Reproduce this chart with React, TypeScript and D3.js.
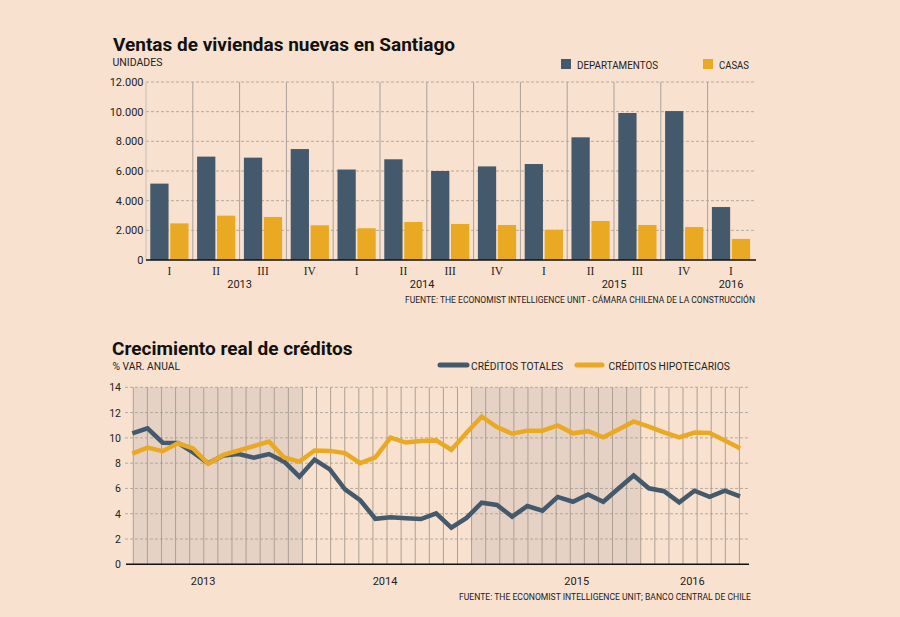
import React from 'react';
import * as d3 from 'd3';

// ---------- Chart 1 data ----------
const quarters = ['I', 'II', 'III', 'IV', 'I', 'II', 'III', 'IV', 'I', 'II', 'III', 'IV', 'I'];
const departamentos = [5150, 6970, 6900, 7480, 6100, 6790, 6000, 6310, 6470, 8270, 9910, 10040, 3570];
const casas = [2470, 2990, 2900, 2340, 2140, 2560, 2430, 2360, 2040, 2630, 2360, 2220, 1420];
const barYearLabels = ['2013', '2014', '2015', '2016'];
const barYearAt = [2, 5.9, 10, 12.5];
const barTicks = [0, 2000, 4000, 6000, 8000, 10000, 12000];

// ---------- Chart 2 data ----------
const creditosTotales = [
  10.36, 10.76, 9.62, 9.6, 8.85, 7.99, 8.6, 8.72, 8.43, 8.72,
  8.12, 6.93, 8.28, 7.51, 5.93, 5.07, 3.6, 3.72, 3.65, 3.58,
  4.03, 2.9, 3.67, 4.87, 4.69, 3.77, 4.61, 4.24, 5.33, 4.95,
  5.53, 4.95, 6.0, 7.02, 6.01, 5.78, 4.9, 5.82, 5.33, 5.82, 5.38,
];
const creditosHipotecarios = [
  8.75, 9.23, 8.95, 9.57, 9.17, 7.95, 8.65, 9.0, 9.35, 9.7,
  8.45, 8.12, 9.0, 8.97, 8.8, 8.0, 8.45, 10.02, 9.63, 9.75,
  9.8, 9.06, 10.4, 11.67, 10.86, 10.33, 10.57, 10.57, 10.98, 10.36,
  10.53, 10.04, 10.67, 11.3, 10.88, 10.43, 10.04, 10.42, 10.38, 9.79, 9.17,
];
const monthColumns = 43;
const shadedSpans = [[0, 12], [24, 36]];
const lineYearLabels = ['2013', '2014', '2015', '2016'];
const lineYearAt = [4.95, 17.86, 31.46, 39.66];
const lineTicks = [0, 2, 4, 6, 8, 10, 12, 14];

const BG = '#f9e1cf';
const SHADE = '#e6d2c4';
const DARK = '#44596c';
const YELLOW = '#e9a923';
const GRID = '#a39c96';
const SANS = 'Roboto, "Liberation Sans", sans-serif';
const SERIF = '"Liberation Serif", "DejaVu Serif", serif';

const fmt = d3.formatLocale({ decimal: ',', thousands: '.', grouping: [3], currency: ['$', ''] }).format(',d');

export default function App() {
  // ---- chart 1 scales
  const x1 = d3.scaleBand<number>().domain(d3.range(quarters.length)).range([146, 754.4]).padding(0);
  const inner = d3.scaleBand<string>().domain(['dep', 'cas']).range([0, x1.bandwidth()]).paddingInner(0.085).paddingOuter(0.215);
  const xPos = d3.scaleLinear().domain([0, quarters.length]).range([146, 754.4]);
  const y1 = d3.scaleLinear().domain([0, 12000]).range([260, 82]);

  // ---- chart 2 scales
  const xData = d3.scaleLinear().domain([0, creditosTotales.length - 1]).range([132.3, 740]);
  const xGrid = d3.scaleLinear().domain([0, monthColumns]).range([133.3, 739.4]);
  const y2 = d3.scaleLinear().domain([0, 14]).range([564.3, 387.3]);
  const line = d3.line<number>().x((_, i) => xData(i)).y((d) => y2(d));

  return (
    <svg width={900} height={617} style={{ position: 'absolute', left: 0, top: 0 }} fontFamily={SANS}>
      <rect x={0} y={0} width={900} height={617} fill={BG} />

      {/* ================= Chart 1 ================= */}
      <text x={113} y={51} fontSize={18.5} fontWeight={700} fill="#111" textLength={342} lengthAdjust="spacingAndGlyphs">
        Ventas de viviendas nuevas en Santiago
      </text>
      <text x={112.5} y={65.5} fontSize={10} fill="#222" textLength={50} lengthAdjust="spacingAndGlyphs">UNIDADES</text>

      {/* legend */}
      <rect x={561} y={59} width={10} height={10} fill={DARK} />
      <text x={577} y={69} fontSize={10.5} fill="#222" textLength={81} lengthAdjust="spacingAndGlyphs">DEPARTAMENTOS</text>
      <rect x={703} y={59} width={10} height={10} fill={YELLOW} />
      <text x={719} y={69} fontSize={10.5} fill="#222" textLength={30} lengthAdjust="spacingAndGlyphs">CASAS</text>

      {/* horizontal dashed grid */}
      {barTicks.filter((t) => t > 0).map((t) => (
        <line key={'hg' + t} x1={146} x2={755} y1={y1(t)} y2={y1(t)} stroke={GRID} strokeWidth={0.8} strokeDasharray="3,2" />
      ))}
      {/* vertical separators */}
      {d3.range(quarters.length).map((i) => (
        <line key={'vs' + i} x1={x1(i)} x2={x1(i)} y1={y1(12000)} y2={y1(0)} stroke={i === 0 ? '#c9bdb3' : '#aaa29c'} strokeWidth={1} />
      ))}
      {/* y tick labels */}
      {barTicks.map((t) => (
        <text key={'yt' + t} x={143.5} y={y1(t) + 4} fontSize={11} textAnchor="end" fill="#222">{t === 0 ? '0' : fmt(t)}</text>
      ))}
      {/* bars */}
      {departamentos.map((v, i) => (
        <rect key={'d' + i} x={(x1(i) as number) + (inner('dep') as number)} y={y1(v)} width={inner.bandwidth()} height={y1(0) - y1(v)} fill={DARK} />
      ))}
      {casas.map((v, i) => (
        <rect key={'c' + i} x={(x1(i) as number) + (inner('cas') as number)} y={y1(v)} width={inner.bandwidth()} height={y1(0) - y1(v)} fill={YELLOW} />
      ))}
      {/* baseline */}
      <line x1={146} x2={756} y1={y1(0)} y2={y1(0)} stroke="#111" strokeWidth={1.5} />
      {/* quarter labels */}
      {quarters.map((q, i) => (
        <text key={'q' + i} x={(x1(i) as number) + x1.bandwidth() / 2} y={275} fontSize={11.5} fontFamily={SERIF} textAnchor="middle" fill="#222">{q}</text>
      ))}
      {barYearLabels.map((l, i) => (
        <text key={'by' + l} x={xPos(barYearAt[i])} y={287.5} fontSize={11} textAnchor="middle" fill="#222">{l}</text>
      ))}
      <text x={755} y={303} fontSize={9.5} textAnchor="end" fill="#222" textLength={350} lengthAdjust="spacingAndGlyphs">
        FUENTE: THE ECONOMIST INTELLIGENCE UNIT - CÁMARA CHILENA DE LA CONSTRUCCIÓN
      </text>

      {/* ================= Chart 2 ================= */}
      <text x={112} y={355} fontSize={17.5} fontWeight={700} fill="#111" textLength={240.5} lengthAdjust="spacingAndGlyphs">
        Crecimiento real de créditos
      </text>
      <text x={112.5} y={369.5} fontSize={10} fill="#222" textLength={67.5} lengthAdjust="spacingAndGlyphs">% VAR. ANUAL</text>

      {/* legend */}
      <line x1={440} x2={467} y1={365} y2={365} stroke={DARK} strokeWidth={5} strokeLinecap="round" />
      <text x={471} y={369.5} fontSize={11} fill="#222" textLength={92} lengthAdjust="spacingAndGlyphs">CRÉDITOS TOTALES</text>
      <line x1={577} x2={602} y1={365} y2={365} stroke={YELLOW} strokeWidth={5} strokeLinecap="round" />
      <text x={608.5} y={369.5} fontSize={11} fill="#222" textLength={121.5} lengthAdjust="spacingAndGlyphs">CRÉDITOS HIPOTECARIOS</text>

      {/* shaded years */}
      {shadedSpans.map(([a, b], i) => (
        <rect key={'sh' + i} x={xGrid(a)} y={y2(14)} width={xGrid(b) - xGrid(a)} height={y2(0) - y2(14)} fill={SHADE} />
      ))}
      {/* vertical month lines */}
      {d3.range(monthColumns + 1).map((j) => (
        <line key={'vm' + j} x1={xGrid(j)} x2={xGrid(j)} y1={y2(14)} y2={y2(0)} stroke="#ad9f94" strokeWidth={1} />
      ))}
      {/* horizontal dashed grid */}
      {lineTicks.filter((t) => t > 0).map((t) => (
        <line key={'lg' + t} x1={125} x2={750} y1={y2(t)} y2={y2(t)} stroke={GRID} strokeWidth={0.8} strokeDasharray="3,2" />
      ))}
      {lineTicks.map((t) => (
        <text key={'ly' + t} x={121} y={y2(t) + 4} fontSize={10.5} textAnchor="end" fill="#222">{t}</text>
      ))}
      {/* lines */}
      <path d={line(creditosTotales) || ''} fill="none" stroke={DARK} strokeWidth={4.5} strokeLinejoin="miter" />
      <path d={line(creditosHipotecarios) || ''} fill="none" stroke={YELLOW} strokeWidth={4.5} strokeLinejoin="miter" />
      {/* baseline */}
      <line x1={126} x2={749} y1={y2(0)} y2={y2(0)} stroke="#111" strokeWidth={1.5} />
      {lineYearLabels.map((l, i) => (
        <text key={'lyl' + l} x={xGrid(lineYearAt[i])} y={585} fontSize={11} textAnchor="middle" fill="#222">{l}</text>
      ))}
      <text x={751} y={599.5} fontSize={9.5} textAnchor="end" fill="#222" textLength={292} lengthAdjust="spacingAndGlyphs">
        FUENTE: THE ECONOMIST INTELLIGENCE UNIT; BANCO CENTRAL DE CHILE
      </text>
    </svg>
  );
}
